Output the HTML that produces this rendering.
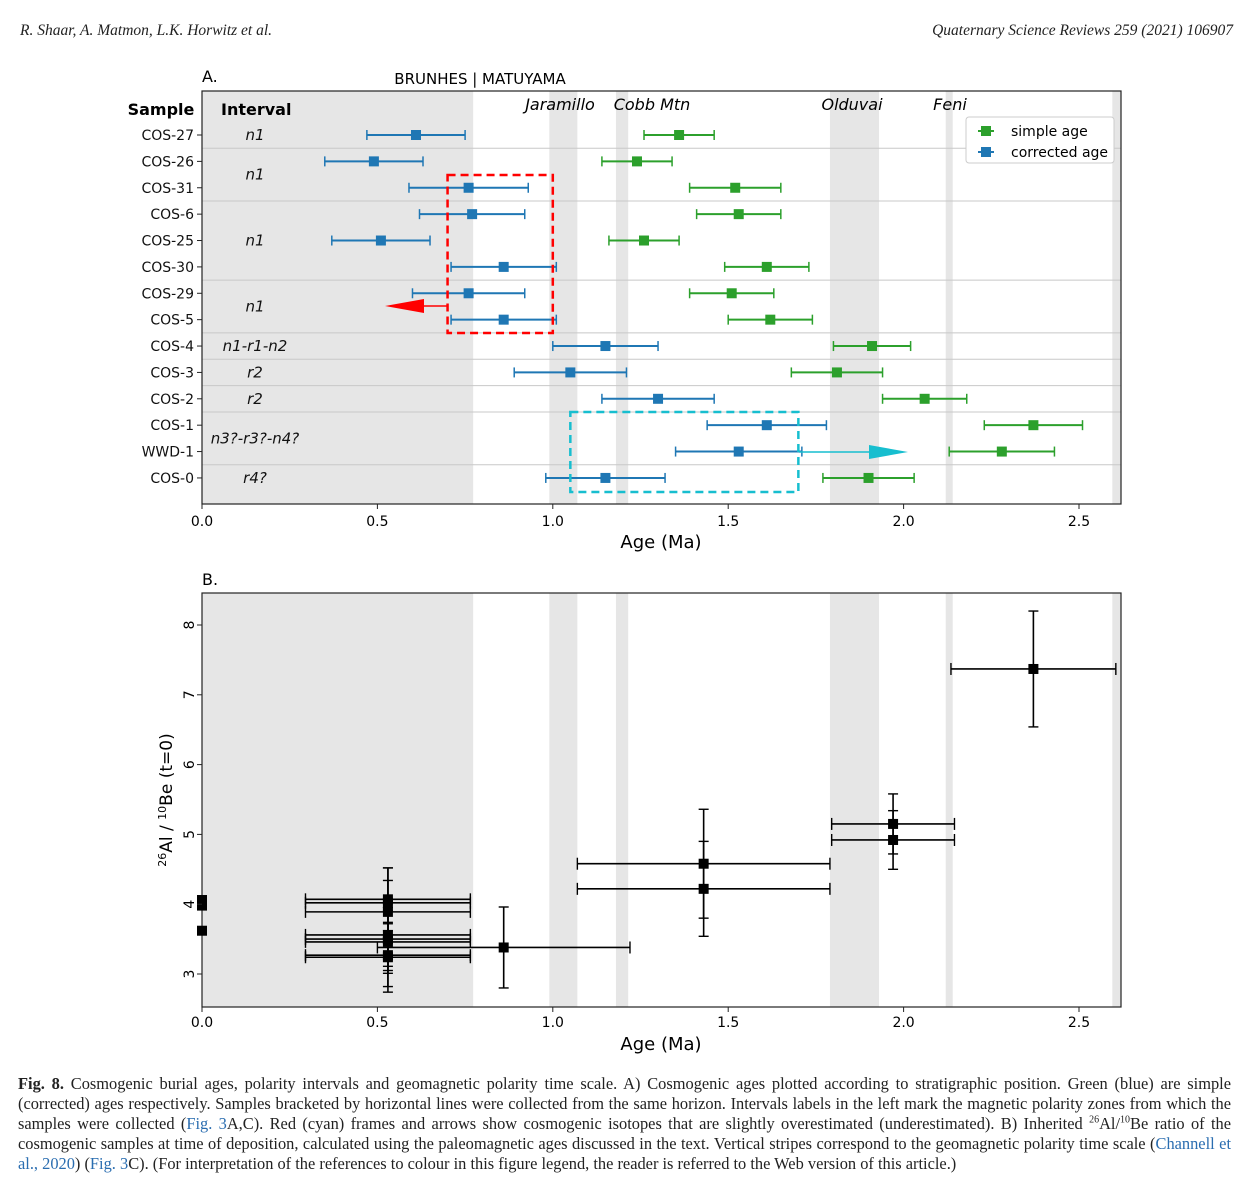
<!DOCTYPE html>
<html><head><meta charset="utf-8">
<style>
body{margin:0;background:#fff;width:1251px;height:1200px;overflow:hidden;font-family:"DejaVu Sans","Liberation Sans",sans-serif;}
.hdr{position:absolute;top:22px;font-family:"Liberation Serif",serif;font-style:italic;font-size:15.5px;color:#222;}
.cap{position:absolute;left:18px;top:1074px;width:1213px;font-family:"Liberation Serif",serif;font-size:16.4px;line-height:20px;text-align:justify;color:#222;}
.cap sup{font-size:10px;line-height:0;}
.cap a{color:#2a6db0;text-decoration:none;}
</style></head><body>
<div class="hdr" style="left:20px">R. Shaar, A. Matmon, L.K. Horwitz et al.</div>
<div class="hdr" style="right:18px">Quaternary Science Reviews 259 (2021) 106907</div>
<svg id="chart" width="1251" height="1070" style="position:absolute;left:0;top:0"></svg>
<div class="cap"><b>Fig. 8.</b> Cosmogenic burial ages, polarity intervals and geomagnetic polarity time scale. A) Cosmogenic ages plotted according to stratigraphic position. Green (blue) are simple (corrected) ages respectively. Samples bracketed by horizontal lines were collected from the same horizon. Intervals labels in the left mark the magnetic polarity zones from which the samples were collected (<a>Fig. 3</a>A,C). Red (cyan) frames and arrows show cosmogenic isotopes that are slightly overestimated (underestimated). B) Inherited <sup>26</sup>Al/<sup>10</sup>Be ratio of the cosmogenic samples at time of deposition, calculated using the paleomagnetic ages discussed in the text. Vertical stripes correspond to the geomagnetic polarity time scale (<a>Channell et al., 2020</a>) (<a>Fig. 3</a>C). (For interpretation of the references to colour in this figure legend, the reader is referred to the Web version of this article.)</div>
<script>
const samples=["COS-27","COS-26","COS-31","COS-6","COS-25","COS-30","COS-29","COS-5","COS-4","COS-3","COS-2","COS-1","WWD-1","COS-0"];
const blueAge=[0.61,0.49,0.76,0.77,0.51,0.86,0.76,0.86,1.15,1.05,1.30,1.61,1.53,1.15];
const blueErr=[0.14,0.14,0.17,0.15,0.14,0.15,0.16,0.15,0.15,0.16,0.16,0.17,0.18,0.17];
const greenAge=[1.36,1.24,1.52,1.53,1.26,1.61,1.51,1.62,1.91,1.81,2.06,2.37,2.28,1.90];
const greenErr=[0.10,0.10,0.13,0.12,0.10,0.12,0.12,0.12,0.11,0.13,0.12,0.14,0.15,0.13];
const intervalLabels=[["n1",0],["n1",1.5],["n1",4],["n1",6.5],["n1-r1-n2",8],["r2",9],["r2",10],["n3?-r3?-n4?",11.5],["r4?",13]];
const separators=[0.5,2.5,5.5,7.5,8.5,9.5,10.5,12.5];
const stripes=[[0,0.773],[0.99,1.07],[1.18,1.215],[1.79,1.93],[2.12,2.14],[2.595,2.62]];
const xTicks=[0,0.5,1.0,1.5,2.0,2.5];
const bAge=[0,0,0,0.53,0.53,0.53,0.53,0.53,0.53,0.53,0.53,0.86,1.43,1.43,1.97,1.97,2.37];
const bRatio=[4.06,3.98,3.62,4.07,4.02,3.89,3.56,3.50,3.46,3.27,3.24,3.38,4.58,4.22,5.15,4.92,7.37];
const bXerr=[0,0,0,0.235,0.235,0.235,0.235,0.235,0.235,0.235,0.235,0.36,0.36,0.36,0.175,0.175,0.235];
const bYerr=[0,0,0,0.45,0.5,0.45,0.45,0.45,0.45,0.45,0.5,0.58,0.78,0.68,0.43,0.42,0.83];
const yTicksB=[3,4,5,6,7,8];

const svg=document.getElementById('chart');
const NS='http://www.w3.org/2000/svg';
function el(t,a,p){const e=document.createElementNS(NS,t);for(const k in a)e.setAttribute(k,a[k]);(p||svg).appendChild(e);return e;}
const X0=202,X1=1121,PX=350.8;
const xs=v=>X0+v*PX;
const AT=91,AB=504;
const ys=i=>135+i*26.38;
const gA=el('g',{});
stripes.forEach(s=>{const r=el('rect',{x:xs(s[0]),y:AT,width:xs(s[1])-xs(s[0]),height:AB-AT,fill:'#e6e6e6'},gA);});
separators.forEach(s=>{const y=ys(s);const l=el('line',{x1:X0,x2:X1,y1:y,y2:y,stroke:'#c8c8c8','stroke-width':1},gA);});
el('rect',{x:X0,y:AT,width:X1-X0,height:AB-AT,fill:'none',stroke:'#222','stroke-width':1.2},gA);
function errbar(g,x,y,e,c,name){const gg=el('g',{},g);
 el('line',{x1:xs(x-e),x2:xs(x+e),y1:y,y2:y,stroke:c,'stroke-width':2},gg);
 [x-e,x+e].forEach(v=>el('line',{x1:xs(v),x2:xs(v),y1:y-5,y2:y+5,stroke:c,'stroke-width':1.5},gg));
 el('rect',{x:xs(x)-5,y:y-5,width:10,height:10,fill:c},gg);}
samples.forEach((s,i)=>{const y=ys(i);
 errbar(gA,blueAge[i],y,blueErr[i],'#1f77b4','corrected-age-'+s.toLowerCase());
 errbar(gA,greenAge[i],y,greenErr[i],'#2ca02c','simple-age-'+s.toLowerCase());
 el('line',{x1:X0-5,x2:X0,y1:y,y2:y,stroke:'#222'},gA);
 const t=el('text',{x:X0-8,y:y+5,'text-anchor':'end','font-size':14,fill:'#111'},gA);t.textContent=s;});
intervalLabels.forEach(l=>{const t=el('text',{x:255,y:ys(l[1])+5,'text-anchor':'middle','font-size':15,'font-style':'italic',fill:'#111'},gA);t.textContent=l[0];});
xTicks.forEach(v=>{el('line',{x1:xs(v),x2:xs(v),y1:AB,y2:AB+5,stroke:'#222'},gA);const t=el('text',{x:xs(v),y:AB+22,'text-anchor':'middle','font-size':14},gA);t.textContent=v.toFixed(1);});
[['Age (Ma)',661,548,18,'middle','x-axis-title'],['A.',202,82,16,'start','panel-a-label'],['BRUNHES | MATUYAMA',480,84,15,'middle','chron-label'],['Sample',161,115,16,'middle','sample-header'],['Interval',221,115,16,'start','interval-header']].forEach(a=>{const t=el('text',{x:a[1],y:a[2],'font-size':a[3],'text-anchor':a[4],'font-weight':(a[5].includes('header')?'bold':'normal')},gA);t.textContent=a[0];});
[['Jaramillo',560],['Cobb Mtn',652],['Olduvai',852],['Feni',950]].forEach(a=>{const t=el('text',{x:a[1],y:110,'text-anchor':'middle','font-size':16,'font-style':'italic'},gA);t.textContent=a[0];});
const lg=el('g',{},gA);
el('rect',{x:966,y:117,width:148,height:46,fill:'#fff',stroke:'#ccc',rx:3},lg);
[['simple age','#2ca02c',131],['corrected age','#1f77b4',152]].forEach(a=>{const g=el('g',{},lg);
 el('line',{x1:978,x2:994,y1:a[2],y2:a[2],stroke:a[1],'stroke-width':2},g);el('rect',{x:981,y:a[2]-5,width:10,height:10,fill:a[1]},g);
 const t=el('text',{x:1011,y:a[2]+5,'font-size':14},g);t.textContent=a[0];});
const rf=el('rect',{x:xs(0.70),y:175,width:xs(1.0)-xs(0.70),height:158,fill:'none',stroke:'#f00','stroke-width':2.5,'stroke-dasharray':'8,5'},gA);
const cf=el('rect',{x:xs(1.05),y:412,width:xs(1.70)-xs(1.05),height:80,fill:'none',stroke:'#17becf','stroke-width':2.5,'stroke-dasharray':'8,5'},gA);
const ra=el('g',{},gA);
el('line',{x1:447,x2:420,y1:306,y2:306,stroke:'#f00','stroke-width':1.5},ra);el('polygon',{points:'385,306 424,299 424,313',fill:'#f00'},ra);
const ca=el('g',{},gA);
el('line',{x1:799,x2:872,y1:452,y2:452,stroke:'#17becf','stroke-width':1.5},ca);el('polygon',{points:'908,452 869,445 869,459',fill:'#17becf'},ca);
const BT=593,BB=1007;
const yb=v=>974-(v-3)*69.8;
const gB=el('g',{});
stripes.forEach(s=>{const r=el('rect',{x:xs(s[0]),y:BT,width:xs(s[1])-xs(s[0]),height:BB-BT,fill:'#e6e6e6'},gB);});
el('rect',{x:X0,y:BT,width:X1-X0,height:BB-BT,fill:'none',stroke:'#222','stroke-width':1.2},gB);
bAge.forEach((a,i)=>{const g=el('g',{},gB);
 const x=xs(a),y=yb(bRatio[i]);
 if(bXerr[i]>0){el('line',{x1:xs(a-bXerr[i]),x2:xs(a+bXerr[i]),y1:y,y2:y,stroke:'#000','stroke-width':1.6},g);
  [a-bXerr[i],a+bXerr[i]].forEach(v=>el('line',{x1:xs(v),x2:xs(v),y1:y-6,y2:y+6,stroke:'#000','stroke-width':1.4},g));}
 if(bYerr[i]>0){const y1=yb(bRatio[i]+bYerr[i]),y2=yb(bRatio[i]-bYerr[i]);el('line',{x1:x,x2:x,y1:y1,y2:y2,stroke:'#000','stroke-width':1.6},g);
  [y1,y2].forEach(v=>el('line',{x1:x-5,x2:x+5,y1:v,y2:v,stroke:'#000','stroke-width':1.4},g));}
 el('rect',{x:x-5,y:y-5,width:10,height:10,fill:'#000'},g);});
xTicks.forEach(v=>{el('line',{x1:xs(v),x2:xs(v),y1:BB,y2:BB+5,stroke:'#222'},gB);const t=el('text',{x:xs(v),y:BB+20,'text-anchor':'middle','font-size':14},gB);t.textContent=v.toFixed(1);});
yTicksB.forEach(v=>{el('line',{x1:X0-5,x2:X0,y1:yb(v),y2:yb(v),stroke:'#222'},gB);const t=el('text',{x:190,y:yb(v),'text-anchor':'middle','font-size':14,transform:`rotate(-90 190 ${yb(v)})`,'dominant-baseline':'middle'},gB);t.textContent=v;});
const xt=el('text',{x:661,y:1050,'text-anchor':'middle','font-size':18},gB);xt.textContent='Age (Ma)';
const pb=el('text',{x:202,y:585,'font-size':16},gB);pb.textContent='B.';
const yt=el('text',{x:172,y:800,'text-anchor':'middle','font-size':17,transform:'rotate(-90 172 800)'},gB);
yt.innerHTML='<tspan baseline-shift="super" font-size="11">26</tspan>Al / <tspan baseline-shift="super" font-size="11">10</tspan>Be (t=0)';
</script>
</body></html>
